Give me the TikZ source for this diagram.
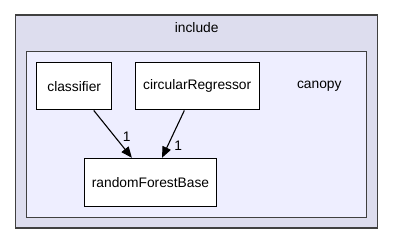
\documentclass[tikz,border=0pt]{standalone}
\usepackage{fontspec}
\setmainfont{Liberation Sans}
\usetikzlibrary{arrows.meta}
\definecolor{outerfill}{HTML}{DDDDEE}
\definecolor{innerfill}{HTML}{EEEEFF}
\definecolor{frame}{HTML}{404040}
\begin{document}
\begin{tikzpicture}[x=1pt,y=-1pt,
  every node/.style={font=\fontsize{13.8}{15}\selectfont, inner sep=0pt},
  dirbox/.style={draw=black, fill=white, line width=1pt},
  dep/.style={-{Triangle[length=11pt,width=9pt]}, line width=1.1pt},
  deplabel/.style={font=\fontsize{13.8}{15}\selectfont}]
\useasboundingbox (0,0) rectangle (393,244);
% parent directory
\draw[frame, fill=outerfill, line width=1.4pt] (15.7,15) rectangle (377.7,228);
\node (include) at (196.7,27.5) {include};
% this directory
\draw[frame, fill=innerfill, line width=1.2pt] (26.7,51.7) rectangle (366.7,217.3);
\node (canopy) at (319.3,86) {canopy};
% subdirectories
\node[dirbox, minimum width=75pt, minimum height=47.3pt] (classifier) at (74.2,86.3) {classifier};
\node[dirbox, minimum width=124.3pt, minimum height=47.3pt] (circ) at (197.2,86.3) {circularRegressor};
\node[dirbox, minimum width=132.4pt, minimum height=48.4pt] (rfb) at (150.5,182.5) {randomForestBase};
% dependencies
\draw[dep] (classifier.-51) -- (rfb.127.8);
\draw[dep] (circ.-118.3) -- (rfb.65.2);
\node[deplabel] (l1) at (126.7,137) {1};
\node[deplabel] (l2) at (178.3,145.7) {1};
\end{tikzpicture}
\end{document}
